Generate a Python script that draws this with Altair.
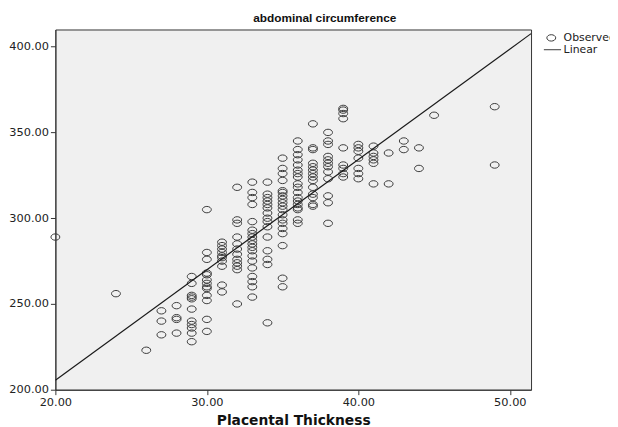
import altair as alt
import pandas as pd

# Placental thickness levels (x) and the abdominal circumference values observed at each level (y)
thickness_levels = [20, 24, 26, 27, 28, 29, 30, 31, 32, 33, 34, 35, 36, 37, 38, 39, 40, 41, 42, 43, 44, 45, 49]
circumference_by_level = [
    [289],
    [256],
    [223],
    [246, 240, 232],
    [249, 242, 241, 233],
    [266, 262, 255, 254, 253, 247, 240, 238, 236, 233, 228],
    [305, 280, 276, 268, 267, 264, 262, 260, 259, 255, 252, 241, 234],
    [286, 284, 282, 280, 278, 277, 275, 272, 261, 257],
    [318, 299, 297, 289, 285, 282, 279, 276, 274, 272, 270, 250],
    [321, 315, 312, 308, 298, 293, 291, 289, 287, 285, 283, 281, 278, 275, 271, 266, 263, 260, 254],
    [321, 314, 312, 310, 308, 306, 303, 300, 298, 295, 289, 281, 276, 273, 239],
    [335, 329, 326, 322, 316, 315, 313, 311, 309, 307, 305, 302, 299, 297, 294, 291, 284, 265, 260],
    [345, 340, 337, 334, 331, 328, 326, 324, 320, 318, 315, 312, 310, 308, 306, 305, 299, 297],
    [355, 341, 340, 332, 330, 328, 326, 324, 322, 318, 314, 312, 308, 307],
    [350, 345, 343, 336, 334, 332, 330, 327, 323, 313, 309, 297],
    [364, 363, 361, 358, 341, 331, 329, 326, 324],
    [343, 341, 339, 335, 329, 326, 323],
    [342, 338, 336, 334, 332, 320],
    [338, 320],
    [345, 340],
    [341, 329],
    [360],
    [365, 331],
]
series_names = ["Observed", "Linear"]
x_ticks = [20, 30, 40, 50]
y_ticks = [200, 250, 300, 350, 400]

rows = []
for t, values in zip(thickness_levels, circumference_by_level):
    for v in values:
        rows.append({"thickness": t, "circumference": v, "series": "Observed"})
df = pd.DataFrame(rows)

FONT = "Liberation Sans"
WIDE = "DejaVu Sans"
x_dom = [20, 51.4]
x_scale = alt.Scale(domain=x_dom, nice=False, zero=False)
y_scale = alt.Scale(domain=[200, 410], nice=False, zero=False)

ellipse = "M-1,0A1,0.72,0,1,0,1,0A1,0.72,0,1,0,-1,0Z"
line_sym = "M-1.67,0L2.2,0"

x_axis = alt.Axis(values=x_ticks, format=".2f", title="Placental Thickness", grid=False,
                  tickSize=5, labelPadding=2, labelFlush=False, titlePadding=6)
y_axis = alt.Axis(values=y_ticks, format=".2f", title=None, grid=False,
                  tickSize=5, labelPadding=2, labelFlush=False)

points = alt.Chart(df).mark_point(
    filled=False, size=81, strokeWidth=1, color="#3a3a3a", opacity=1
).encode(
    x=alt.X("thickness:Q", scale=x_scale, axis=x_axis),
    y=alt.Y("circumference:Q", scale=y_scale, axis=y_axis),
    shape=alt.Shape(
        "series:N",
        scale=alt.Scale(domain=series_names, range=[ellipse, line_sym]),
        legend=alt.Legend(title=None, orient="none", legendX=497, legendY=3,
                          symbolSize=81, symbolStrokeWidth=1, symbolStrokeColor="#3a3a3a",
                          symbolFillColor="transparent", labelFont=WIDE, labelFontSize=11,
                          labelColor="#222", rowPadding=0, padding=0, labelOffset=7),
    ),
)

fit = alt.Chart(df).transform_regression(
    "thickness", "circumference", extent=x_dom
).mark_line(clip=True, color="#1a1a1a", strokeWidth=1.2).encode(
    x=alt.X("thickness:Q", scale=x_scale),
    y=alt.Y("circumference:Q", scale=y_scale),
)

chart = alt.layer(points, fit).properties(
    width=482,
    height=365,
    title=alt.TitleParams("abdominal circumference", font=FONT, fontSize=12, fontWeight="bold",
                          color="#111", anchor="middle", dx=32, offset=5),
    autosize=alt.AutoSizeParams(type="none"),
    padding={"left": 48, "top": 19, "right": 80, "bottom": 35},
    background="white",
).configure_view(
    fill="#F0F0F0", stroke="#333", strokeWidth=1
).configure_axis(
    domainColor="#333", tickColor="#333", labelColor="#222", labelFont=WIDE, labelFontSize=11.5,
    titleFont=WIDE, titleFontSize=14, titleFontWeight="bold", titleColor="#111"
)

chart.save("out.html", embed_options={"renderer": "svg", "actions": False})
